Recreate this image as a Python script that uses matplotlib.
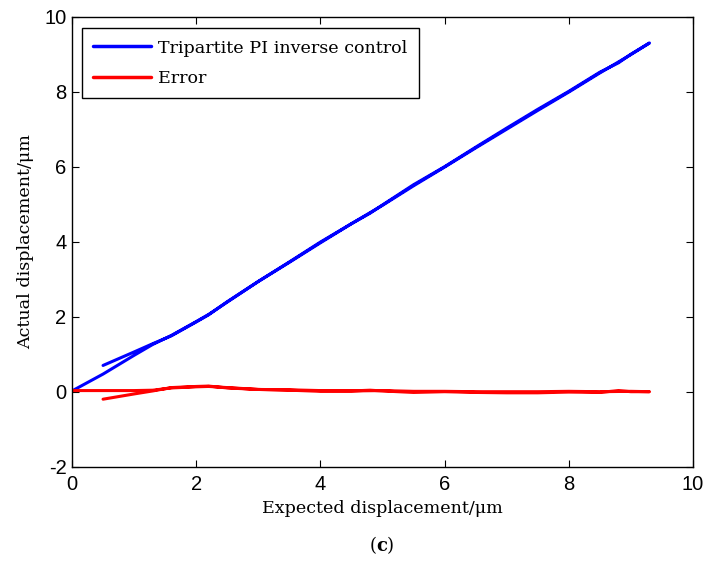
import matplotlib
matplotlib.use("Agg")
import matplotlib.pyplot as plt

# ---- data ----
x_up = [0.0, 0.5, 1.0, 1.3, 1.6, 2.0, 2.2, 2.5, 3.0, 3.5, 4.0, 4.5, 5.0, 5.5,
        6.0, 6.5, 7.0, 7.5, 8.0, 8.5, 9.0, 9.3]
actual_up = [0.02, 0.47, 0.97, 1.26, 1.50, 1.87, 2.06, 2.39, 2.94, 3.45, 3.97,
             4.48, 4.97, 5.49, 5.99, 6.50, 7.00, 7.50, 7.99, 8.50, 8.99, 9.30]
error_up = [0.03, 0.03, 0.03, 0.04, 0.10, 0.13, 0.14, 0.11, 0.06, 0.05, 0.03,
            0.02, 0.03, 0.01, 0.01, 0.0, 0.0, 0.0, 0.01, 0.0, 0.01, 0.0]

x_down = [9.3, 9.0, 8.8, 8.5, 8.0, 7.5, 7.0, 6.5, 6.0, 5.5, 5.0, 4.8, 4.5, 4.0,
          3.5, 3.0, 2.5, 2.2, 2.0, 1.6, 1.3, 1.0, 0.5]
actual_down = [9.30, 9.00, 8.77, 8.52, 8.01, 7.53, 7.03, 6.52, 6.00, 5.52, 4.98,
               4.76, 4.48, 3.99, 3.46, 2.94, 2.40, 2.05, 1.86, 1.49, 1.28, 1.06, 0.70]
error_down = [0.0, 0.0, 0.03, -0.02, -0.01, -0.03, -0.03, -0.02, 0.0, -0.02, 0.02,
              0.04, 0.02, 0.01, 0.04, 0.06, 0.10, 0.15, 0.14, 0.11, 0.02, -0.06, -0.20]

series_labels = ["Tripartite PI inverse control", "Error"]
x_ticks = [0, 2, 4, 6, 8, 10]
y_ticks = [-2, 0, 2, 4, 6, 8, 10]
x_label = "Expected displacement/\u03bcm"
y_label = "Actual displacement/\u03bcm"

# ---- style ----
plt.rcParams['mathtext.fontset'] = 'custom'
plt.rcParams['mathtext.rm'] = 'DejaVu Serif'
plt.rcParams['mathtext.bf'] = 'DejaVu Serif:bold'

serif = ['DejaVu Serif', 'Liberation Serif']
sans = ['Liberation Sans', 'DejaVu Sans']
fs_serif = 12.6

fig = plt.figure(figsize=(7.04, 5.61), dpi=100)
ax = fig.add_axes([72 / 704, 1 - 466.7 / 561, (693 - 72) / 704, (466.7 - 16.7) / 561])

ax.plot(x_up + x_down, actual_up + actual_down, color=(0, 0, 1), lw=2.2,
        label=series_labels[0], solid_joinstyle='round', solid_capstyle='round')
ax.plot(x_up + x_down, error_up + error_down, color=(1, 0, 0), lw=2.2,
        label=series_labels[1], solid_joinstyle='round', solid_capstyle='round')

ax.set_xlim(0, 10)
ax.set_ylim(-2, 10)
ax.set_xticks(x_ticks)
ax.set_yticks(y_ticks)
ax.set_xticklabels([str(t) for t in x_ticks], family=sans, fontsize=14.5)
ax.set_yticklabels([str(t) for t in y_ticks], family=sans, fontsize=14.5)
ax.tick_params(direction='in', length=5, width=0.8, top=True, right=True)
ax.tick_params(axis='x', pad=6)
ax.tick_params(axis='y', pad=4)
for s in ax.spines.values():
    s.set_linewidth(1.0)

ax.set_xlabel(x_label, family=serif, fontsize=fs_serif, labelpad=4)
ax.set_ylabel(y_label, family=serif, fontsize=fs_serif, labelpad=7)

leg = ax.legend(loc='upper left', bbox_to_anchor=(10 / 621, 1 - 11.5 / 450),
                borderaxespad=0, prop={'family': serif, 'size': fs_serif},
                handlelength=3.3, handletextpad=0.4, labelspacing=0.75,
                borderpad=0.65, fancybox=False, framealpha=1, edgecolor='black')
leg.get_frame().set_linewidth(1.0)
for line in leg.get_lines():
    line.set_linewidth(2.5)

fig.text(382 / 704, 1 - 545 / 561, r"($\mathbf{c}$)", family=serif, fontsize=13,
         ha='center', va='center')

fig.savefig("out.png", dpi=100)
